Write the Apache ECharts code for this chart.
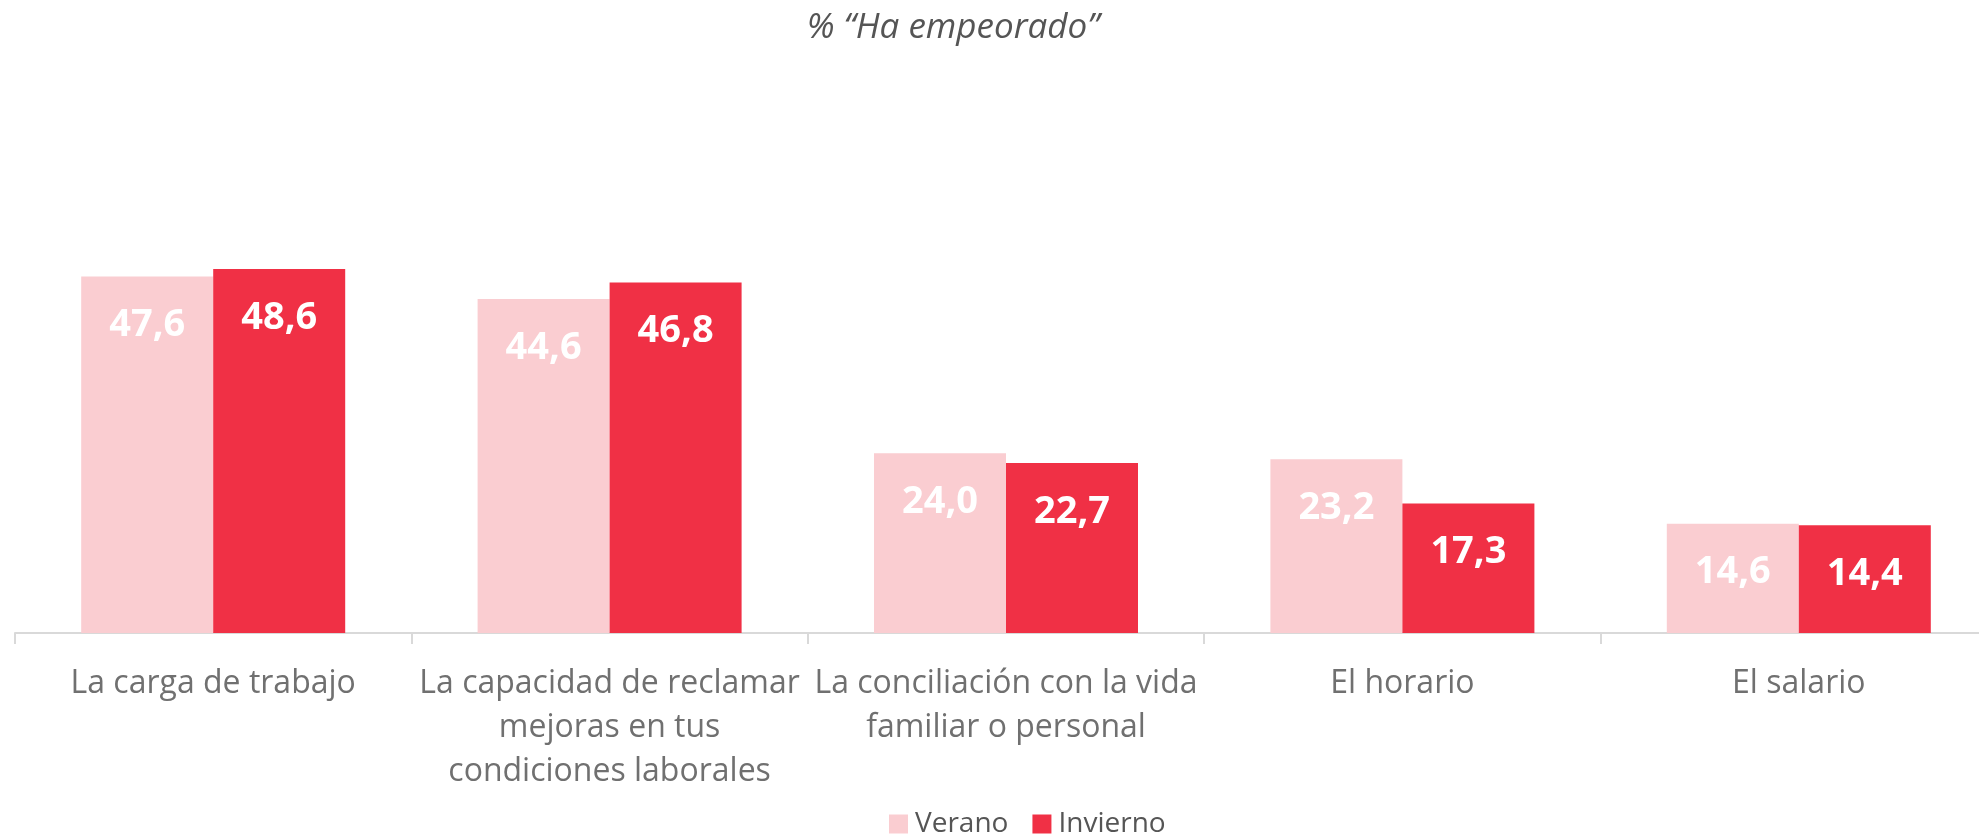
<!DOCTYPE html>
<html><head><meta charset="utf-8">
<script src="https://cdn.jsdelivr.net/npm/echarts@6/dist/echarts.min.js"></script>
<style>html,body{margin:0;padding:0;background:#fff;overflow:hidden}#c{width:1979px;height:834px}</style>
</head><body><div id="c"></div>
<script>
const categories = ['La carga de trabajo', 'La capacidad de reclamar\nmejoras en tus\ncondiciones laborales', 'La conciliación con la vida\nfamiliar o personal', 'El horario', 'El salario'];
const verano = [47.6, 44.6, 24.0, 23.2, 14.6];
const invierno = [48.6, 46.8, 22.7, 17.3, 14.4];
const seriesNames = ['Verano', 'Invierno'];
const titleText = '% “Ha empeorado”';

const font = 'Open Sans';
const chart = echarts.init(document.getElementById('c'));
const fmt = p => p.value.toFixed(1).replace('.', ',');
const lbl = {show:true, position:'insideTop', distance:30, color:'#fff', fontFamily:font, fontWeight:'bold', fontSize:38, lineHeight:38, formatter:fmt};
chart.setOption({
  animation:false,
  title:{text:titleText, left:948, top:6, textAlign:'center', textStyle:{fontFamily:font, fontStyle:'italic', fontWeight:'normal', fontSize:35, color:'#555'}},
  legend:{data:seriesNames, left:884, top:805, itemWidth:19, itemHeight:19, itemGap:24, icon:'rect', textStyle:{fontFamily:font, fontSize:28, color:'#555', padding:[0,0,0,2]}},
  grid:{left:15, width:1982, top:183.6, height:449.4, containLabel:false, outerBoundsMode:'none'},
  xAxis:{type:'category', data:categories,
    axisLine:{lineStyle:{color:'#d9d9d9', width:2}},
    axisTick:{show:true, length:11, lineStyle:{color:'#d9d9d9', width:2}},
    axisLabel:{interval:0, margin:29, fontFamily:font, fontSize:32, lineHeight:44, color:'#707070'}},
  yAxis:{type:'value', min:0, max:60, show:false, splitLine:{show:false}},
  series:[
    {name:seriesNames[0], type:'bar', data:verano, barGap:'0%', barCategoryGap:'33.4%', itemStyle:{color:'#FACDD1'}, label:lbl},
    {name:seriesNames[1], type:'bar', data:invierno, itemStyle:{color:'#F03045'}, label:lbl}
  ]
});
</script></body></html>
